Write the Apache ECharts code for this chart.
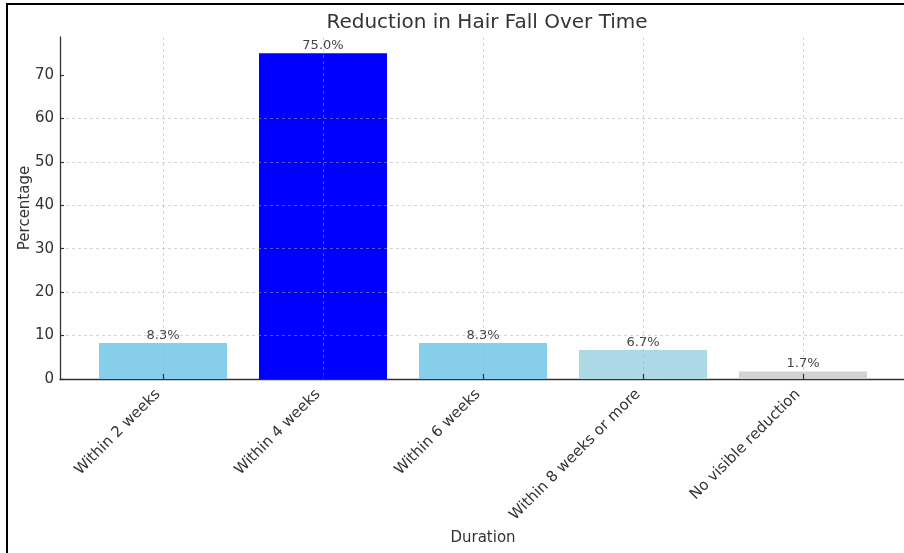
<!DOCTYPE html>
<html>
<head>
<meta charset="utf-8">
<title>Reduction in Hair Fall Over Time</title>
<script src="https://cdn.jsdelivr.net/npm/echarts@6/dist/echarts.min.js"></script>
<style>
  html, body { margin: 0; padding: 0; background: #fff; }
  #wrap { position: relative; width: 904px; height: 553px; overflow: hidden; }
  #chart { position: absolute; left: 0; top: 0; width: 904px; height: 553px; }
  #frame { position: absolute; left: 6px; top: 3px; width: 1000px; height: 700px;
           border-left: 2px solid #000; border-top: 2px solid #000; pointer-events: none; }
</style>
</head>
<body>
<div id="wrap">
  <div id="chart"></div>
  <div id="frame"></div>
</div>
<script>
// Survey results: how soon hair fall was reduced
const categories = ['Within 2 weeks', 'Within 4 weeks', 'Within 6 weeks', 'Within 8 weeks or more', 'No visible reduction'];
const percentages = [8.3, 75.0, 8.3, 6.7, 1.7];
const yTicks = [0, 10, 20, 30, 40, 50, 60, 70];

// bar fill for each category
const barColors = ['#87CEEB', '#0000FF', '#87CEEB', '#ADD8E6', '#D3D3D3'];

const FONT = 'DejaVu Sans';
const TEXT = '#333333';
const yMax = Math.max.apply(null, percentages) * 1.05;
const gridLine = { show: true, lineStyle: { color: 'rgba(170,170,170,0.5)', width: 1, type: [3, 3] } };

const chart = echarts.init(document.getElementById('chart'), null, { renderer: 'canvas' });

chart.setOption({
  animation: false,
  backgroundColor: 'transparent',
  textStyle: { fontFamily: FONT },
  title: {
    text: 'Reduction in Hair Fall Over Time',
    left: 482, top: 8, textAlign: 'center',
    textStyle: { fontFamily: FONT, fontSize: 20, fontWeight: 'normal', color: TEXT }
  },
  grid: [
    // outer frame: spans the full axes area
    { left: 60, right: -2, top: 37, bottom: 174, containLabel: false },
    // inner band: category centres at the first and last tick
    { left: 163, right: 101, top: 37, bottom: 174, containLabel: false }
  ],
  xAxis: [
    {
      gridIndex: 0, type: 'value', min: 0, max: 1,
      axisLine: { show: true, lineStyle: { color: TEXT, width: 1.3 } },
      axisTick: { show: false }, axisLabel: { show: false }, splitLine: { show: false }
    },
    {
      gridIndex: 1, type: 'category', data: categories, boundaryGap: false, z: 5,
      axisLine: { show: false },
      axisTick: { show: true, inside: true, length: 5, lineStyle: { color: TEXT, width: 1.2 } },
      axisLabel: { rotate: 45, margin: 8, padding: [0, 7, 0, 0], fontSize: 15, color: TEXT, fontFamily: FONT },
      splitLine: gridLine,
      name: 'Duration', nameLocation: 'middle', nameGap: 152, nameMoveOverlap: false,
      nameTextStyle: { fontSize: 15, color: TEXT, fontFamily: FONT }
    }
  ],
  yAxis: [
    {
      gridIndex: 0, type: 'value', min: 0, max: yMax, interval: 10, z: 5,
      axisLine: { show: true, lineStyle: { color: TEXT, width: 1.3 } },
      axisTick: { show: true, inside: true, length: 4, customValues: yTicks, lineStyle: { color: TEXT, width: 1.2 } },
      axisLabel: { customValues: yTicks, margin: 6, fontSize: 15, color: TEXT, fontFamily: FONT },
      splitLine: Object.assign({ showMinLine: false, showMaxLine: false }, gridLine),
      name: 'Percentage', nameLocation: 'middle', nameGap: 27, nameMoveOverlap: false,
      nameTextStyle: { fontSize: 15, color: TEXT, fontFamily: FONT }
    },
    {
      gridIndex: 1, type: 'value', min: 0, max: yMax, show: false
    }
  ],
  series: [{
    type: 'bar',
    xAxisIndex: 1, yAxisIndex: 1,
    barWidth: '80%',
    data: percentages.map((v, i) => ({ value: v, itemStyle: { color: barColors[i] } })),
    label: {
      show: true, position: 'top', distance: 1,
      fontSize: 13, color: '#444', fontFamily: FONT,
      formatter: p => p.value.toFixed(1) + '%'
    }
  }]
});
</script>
</body>
</html>
